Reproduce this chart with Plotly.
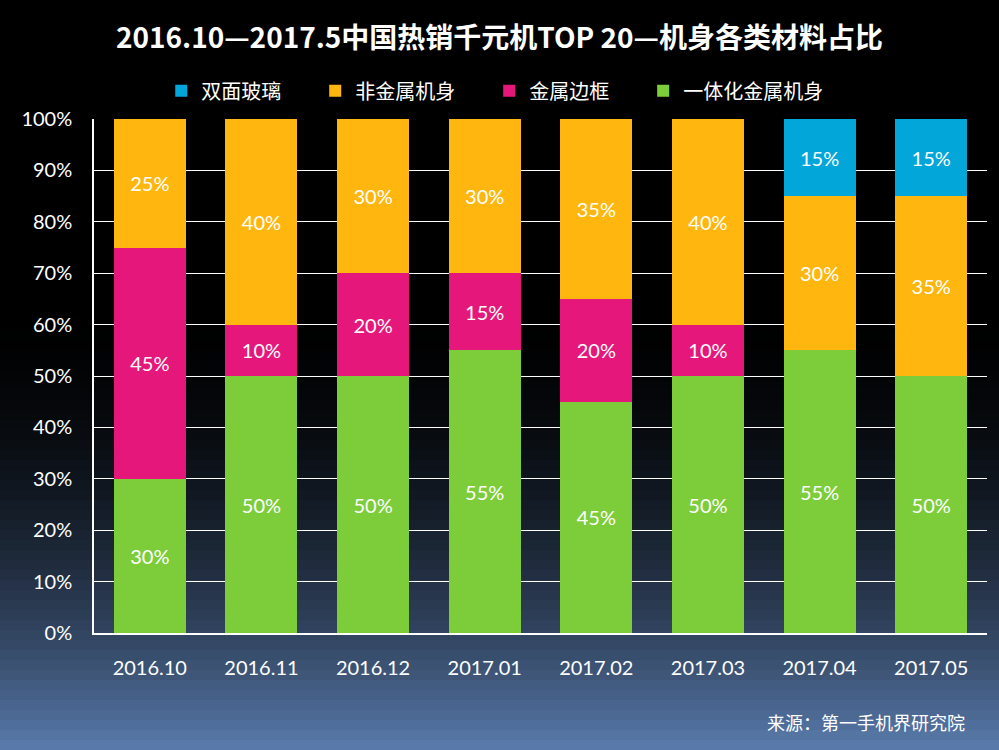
import plotly.graph_objects as go

months = ["2016.10", "2016.11", "2016.12", "2017.01", "2017.02", "2017.03", "2017.04", "2017.05"]
unibody = [30, 50, 50, 55, 45, 50, 55, 50]      # 一体化金属机身
metal_frame = [45, 10, 20, 15, 20, 10, 0, 0]    # 金属边框
non_metal = [25, 40, 30, 30, 35, 40, 30, 35]    # 非金属机身
glass = [0, 0, 0, 0, 0, 0, 15, 15]              # 双面玻璃

series = [
    ("一体化金属机身", unibody, "#7dcd3a"),
    ("金属边框", metal_frame, "#e6177a"),
    ("非金属机身", non_metal, "#ffb70f"),
    ("双面玻璃", glass, "#03a6d8"),
]

font_cn = "Noto Sans CJK SC"
font_num = "Lato, Noto Sans CJK SC"
pad = "\u3000\u00a0\u00a0"  # extra gap between legend entries

fig = go.Figure()
for name, vals, color in series:
    fig.add_trace(go.Bar(
        x=months, y=vals, name=name + pad,
        marker=dict(color=color, line=dict(width=0)),
        text=[f"{v}%" if v else "" for v in vals],
        textposition="inside", insidetextanchor="middle",
        textangle=0,
        textfont=dict(color="white", size=20, family=font_num),
    ))

# background gradient: black on top, steel blue at the bottom
shapes = []
n = 75
top, bottom = 1 + 119 / 514, -117 / 514
for i in range(n):
    y0 = top - (top - bottom) * i / n
    y1 = top - (top - bottom) * (i + 1) / n
    px = 750 * (i + 0.5) / n
    s = max(0.0, (px - 290) / 460) ** 2
    r, g, b = int(90 * s), int(124 * s), int(174 * s)
    shapes.append(dict(type="rect", xref="paper", yref="paper", x0=-0.2, x1=1.1,
                       y0=y1 - 0.002, y1=y0, fillcolor=f"rgb({r},{g},{b})",
                       line=dict(width=0), layer="below"))

fig.update_layout(
    width=999, height=750,
    barmode="stack", bargap=0.355,
    paper_bgcolor="black", plot_bgcolor="rgba(0,0,0,0)",
    margin=dict(l=94, r=12, t=119, b=117, autoexpand=False),
    shapes=shapes,
    title=dict(text="<b>2016.10—2017.5中国热销千元机TOP 20—机身各类材料占比</b>",
               x=0.5, xref="container", y=0.949, yanchor="middle",
               font=dict(family=font_cn, size=28, color="white")),
    legend=dict(orientation="h", x=0.465, xanchor="center",
                y=1.055, yanchor="middle", traceorder="reversed",
                font=dict(family=font_cn, size=20, color="white"),
                bgcolor="rgba(0,0,0,0)"),
    xaxis=dict(showgrid=False, showline=True, linecolor="white", linewidth=1.5,
               ticks="", ticklabelstandoff=16, tickangle=0,
               tickfont=dict(family=font_num, size=20, color="white")),
    yaxis=dict(range=[0, 100], dtick=10, ticksuffix="%", showgrid=True,
               gridcolor="white", gridwidth=1.2, showline=True, linecolor="white",
               linewidth=1.5, zeroline=False, ticks="", ticklabelstandoff=16,
               tickfont=dict(family=font_num, size=20, color="white")),
    annotations=[dict(text="来源：第一手机界研究院", xref="paper", yref="paper",
                      x=0.978, y=-0.173, xanchor="right", yanchor="middle",
                      showarrow=False,
                      font=dict(family=font_cn, size=18, color="white"))],
)

fig.write_html("out.html", config={"displayModeBar": False},
               post_script="document.body.style.margin='0';document.body.style.background='black';")
